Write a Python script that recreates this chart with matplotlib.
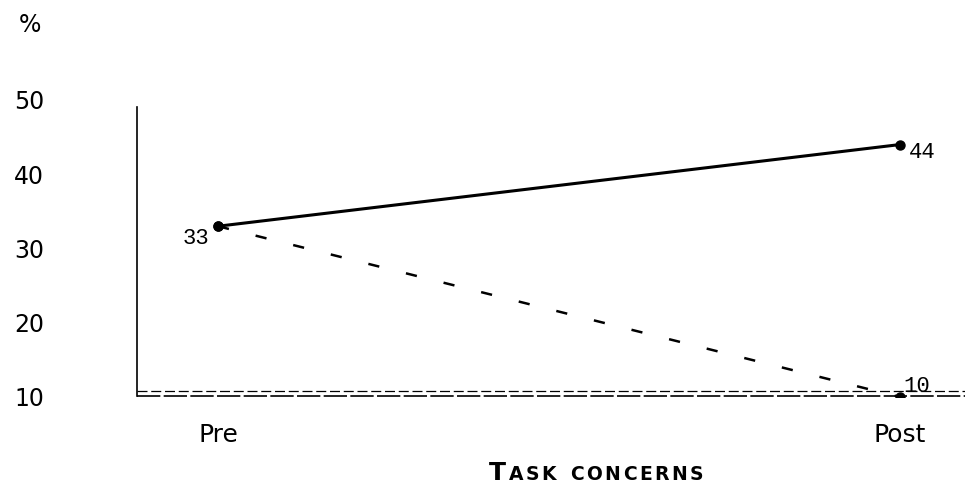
import matplotlib

matplotlib.use("Agg")
import matplotlib.pyplot as plt

categories = ["Pre", "Post"]
solid_values = [33, 44]
dashed_values = [33, 10]
y_ticks = [10, 20, 30, 40, 50]

W, H, DPI = 979, 496, 100
fig = plt.figure(figsize=(W / DPI, H / DPI), dpi=DPI)

# axes placed so that y=10 sits at pixel 397 and y=50 at pixel 100
left_px, right_px = 137, 965
ax = fig.add_axes([left_px / W, 1 - 397 / H, (right_px - left_px) / W, (397 - 100) / H])
ax.set_ylim(10, 50)
pre_px, post_px = 218, 900
unit = post_px - pre_px
ax.set_xlim(-(pre_px - left_px) / unit, 1 + (right_px - post_px) / unit)

x = list(range(len(categories)))
ax.plot(x, solid_values, color="black", lw=2.2, marker="o", ms=6.5, solid_capstyle="round")
ax.plot(x, dashed_values, color="black", lw=1.8, ls=(0, (4.5, 11)), marker="o", ms=6.5)

# value labels
ax.annotate(str(solid_values[0]), (x[0], solid_values[0]), xytext=(-9, -12),
            textcoords="offset pixels", ha="right", va="center",
            family="Liberation Mono", fontsize=16)
ax.annotate(str(solid_values[1]), (x[1], solid_values[1]), xytext=(9, -8),
            textcoords="offset pixels", ha="left", va="center",
            family="Liberation Mono", fontsize=16)
ax.annotate(str(dashed_values[1]), (x[1], dashed_values[1]), xytext=(3, 10),
            textcoords="offset pixels", ha="left", va="center",
            family="Liberation Mono", fontsize=16)

# axes lines
for s in ["top", "right", "bottom"]:
    ax.spines[s].set_visible(False)
ax.spines["left"].set_bounds(10.1, 49)
ax.spines["left"].set_linewidth(1.2)
ax.axhline(10.1, color="black", lw=1.2, ls=(0, (14, 2)))
ax.axhline(10.8, color="black", lw=0.9, ls=(0, (8, 3)))

ax.set_yticks(y_ticks)
ax.set_yticklabels([str(v) for v in y_ticks], fontsize=17)
ax.tick_params(axis="y", length=0, pad=67)
ax.set_xticks(x)
ax.set_xticklabels(categories, fontsize=18)
ax.tick_params(axis="x", length=0, pad=19)

fig.text(30 / W, 1 - 25 / H, "%", fontsize=17, ha="center", va="center")

# small-caps title, drawn letter by letter with wide tracking
renderer = fig.canvas.get_renderer()
title = "TASK CONCERNS"
xpos = 489
for i, ch in enumerate(title):
    size = 18 if i == 0 else 13.5
    t = fig.text(xpos / W, 1 - 480 / H, ch, fontsize=size, fontweight="bold",
                 ha="left", va="baseline")
    w = t.get_window_extent(renderer).width if ch != " " else 9
    xpos += w + 2.5

fig.savefig("out.png", dpi=DPI)
